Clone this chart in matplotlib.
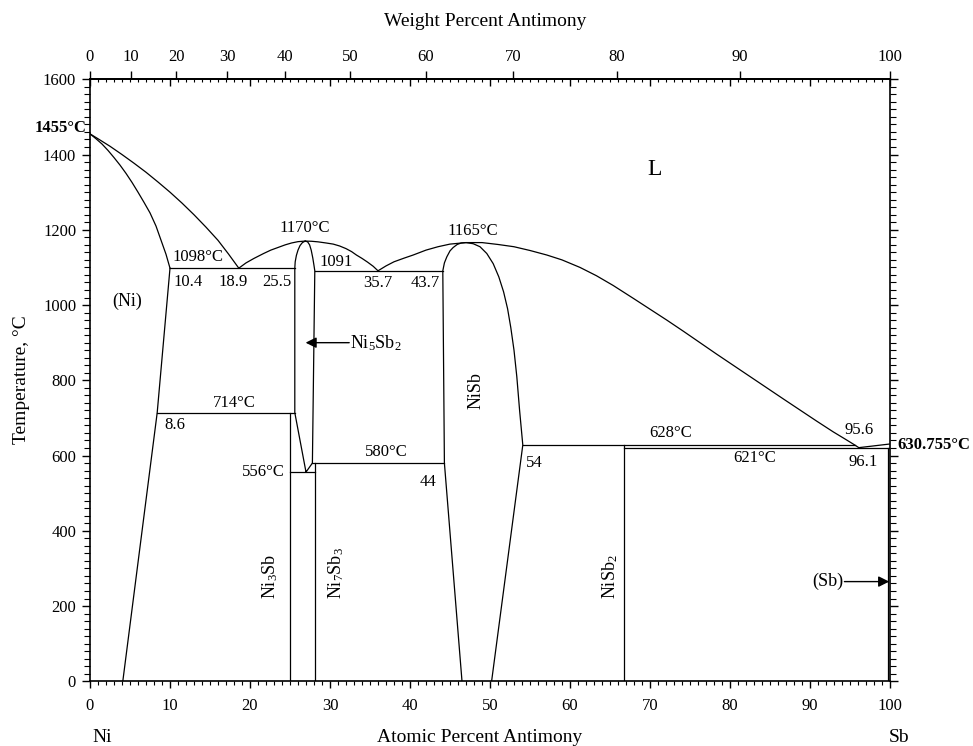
import numpy as np
import matplotlib
matplotlib.use('Agg')
import matplotlib.pyplot as plt
from matplotlib.ticker import MultipleLocator, FixedLocator, NullFormatter

plt.rcParams['font.family'] = ['Liberation Serif', 'DejaVu Serif']
plt.rcParams['mathtext.fontset'] = 'custom'
plt.rcParams['mathtext.rm'] = 'Liberation Serif'
plt.rcParams['mathtext.it'] = 'Liberation Serif:italic'
plt.rcParams['mathtext.bf'] = 'Liberation Serif:bold'

# ---------------- data (atomic % Sb, temperature degC) ----------------
MW_NI, MW_SB = 58.693, 121.76

liq_ni_x = [0, 1, 2.5, 4, 5.5, 7, 8.5, 10, 11.5, 13, 14.5, 16, 17.3, 18.6]
liq_ni_t = [1455, 1442, 1422, 1400, 1377, 1353, 1327, 1300, 1271, 1240, 1207, 1172, 1136, 1098]

sol_ni_x = [0, 0.75, 1.5, 2.25, 3, 3.75, 4.5, 5.25, 6, 6.75, 7.5, 8.25, 9, 9.5, 10.0]
sol_ni_t = [1455, 1442, 1428, 1411, 1392, 1372, 1350, 1326, 1300, 1273, 1245, 1210, 1165, 1135, 1098]

solvus_ni_x = [10.0, 8.4, 4.1]
solvus_ni_t = [1098, 714, 0]

liq_a_x = [18.6, 19.5, 20.5, 21.7, 22.6, 23.5, 24.4, 25.2, 26.0, 26.9]
liq_a_t = [1098, 1112, 1124, 1137, 1146, 1153, 1160, 1165, 1168.5, 1170]
liq_b_x = [26.9, 27.7, 28.5, 29.5, 30.4, 31.2, 32.0, 32.7, 33.3, 34.0, 34.7, 35.4, 36.0]
liq_b_t = [1170, 1169.5, 1168, 1165, 1162, 1157, 1150, 1142, 1133, 1124, 1114, 1103, 1091]

ni5sb2_x = [27.0, 25.6, 25.6, 25.65, 25.8, 26.0, 26.25, 26.55, 26.9, 27.2, 27.45,
            27.65, 27.85, 28.0, 28.1, 27.8, 27.0]
ni5sb2_t = [556, 714, 1098, 1115, 1132, 1146, 1158, 1166, 1170, 1168, 1160,
            1146, 1125, 1105, 1091, 580, 556]

liq_c_x = [36.0, 37, 38, 39.3, 40.4, 42, 43.5, 45, 47, 49, 51, 53, 55, 57.1, 59, 61.25,
           63.3, 65.4, 67.9, 70, 72.1, 74.2, 76.25, 78.3, 80.4, 82.5, 84.6, 86.7, 88.75,
           90.8, 92.9, 94.3, 95.6, 96.1]
liq_c_t = [1091, 1104, 1115, 1125, 1133, 1146, 1155, 1162, 1166, 1166, 1161, 1155, 1145,
           1133, 1120, 1100, 1078, 1052, 1018, 989, 960, 930, 900, 870, 840, 810, 780,
           750, 721, 692, 663, 645, 628, 621]

nisb_x = [46.5, 44.3, 44.1, 44.3, 44.6, 45.0, 45.4, 45.9, 46.4, 47.0, 47.9, 48.75,
          49.6, 50.4, 51.1, 51.7, 52.2, 52.6, 53.0, 53.35, 53.7, 54.1, 50.2]
nisb_t = [0, 580, 1091, 1112, 1128, 1144, 1153, 1161, 1165, 1166, 1163, 1155,
          1137, 1110, 1075, 1035, 990, 940, 880, 810, 720, 628, 0]

liq_sb_x = [96.1, 100]
liq_sb_t = [621, 630.755]

# invariant lines: (x_start, x_end, T)
horiz_x0 = [10.0, 8.4, 25.0, 27.8, 28.1, 54.1, 66.7]
horiz_x1 = [25.6, 25.6, 28.1, 44.3, 44.1, 95.6, 100]
horiz_t = [1098, 714, 556, 580, 1091, 628, 621]

# line compounds: (x, T_top, T_bottom)
vert_x = [25.0, 28.1, 66.7, 99.8]
vert_top = [714, 580, 628, 621]
vert_bot = [0, 0, 0, 0]

top_ticks_wt = [0, 10, 20, 30, 40, 50, 60, 70, 80, 90, 100]


def at2wt(x):
    x = np.asarray(x, dtype=float)
    return 100 * x * MW_SB / (x * MW_SB + (100 - x) * MW_NI)


def wt2at(w):
    w = np.asarray(w, dtype=float)
    a = w / MW_SB
    b = (100 - w) / MW_NI
    return 100 * a / (a + b)


fig = plt.figure(figsize=(9.73, 7.46), dpi=100)
ax = fig.add_axes([90 / 973, 1 - 681.3 / 746, 800 / 973, 602 / 746])
ax.set_xlim(0, 100)
ax.set_ylim(0, 1600)

lw = 0.9
kw = dict(color='black', lw=lw, solid_joinstyle='round')
ax.plot(liq_ni_x, liq_ni_t, **kw)
ax.plot(sol_ni_x, sol_ni_t, **kw)
ax.plot(solvus_ni_x, solvus_ni_t, **kw)
ax.plot(liq_a_x, liq_a_t, **kw)
ax.plot(liq_b_x, liq_b_t, **kw)
ax.plot(ni5sb2_x, ni5sb2_t, **kw)
ax.plot(liq_c_x, liq_c_t, **kw)
ax.plot(nisb_x, nisb_t, **kw)
ax.plot(liq_sb_x, liq_sb_t, **kw)
for x0, x1, t in zip(horiz_x0, horiz_x1, horiz_t):
    ax.plot([x0, x1], [t, t], **kw)
for x, t0, t1 in zip(vert_x, vert_top, vert_bot):
    ax.plot([x, x], [t0, t1], **kw)

# ---------------- axes / ticks ----------------
for s in ax.spines.values():
    s.set_linewidth(1.2)

ax.xaxis.set_major_locator(MultipleLocator(10))
ax.xaxis.set_minor_locator(MultipleLocator(1))
ax.yaxis.set_major_locator(MultipleLocator(200))
ax.yaxis.set_minor_locator(MultipleLocator(20))
ax.tick_params(axis='x', which='major', direction='out', length=5, width=1,
               labelsize=12, pad=7, top=False)
ax.tick_params(axis='x', which='minor', direction='out', length=3, width=0.8, top=False)
ax.tick_params(axis='y', which='major', direction='out', length=6, width=1,
               labelsize=12, pad=4, right=True)
ax.tick_params(axis='y', which='minor', direction='out', length=4, width=0.8, right=True)

# top at% ticks pointing inward
topa = ax.secondary_xaxis('top')
topa.xaxis.set_major_locator(MultipleLocator(10))
topa.xaxis.set_minor_locator(MultipleLocator(1))
topa.xaxis.set_major_formatter(NullFormatter())
topa.tick_params(which='major', direction='in', length=5, width=1)
topa.tick_params(which='minor', direction='in', length=2.5, width=0.8)
topa.spines['top'].set_linewidth(1.2)

# top weight-percent axis
topw = ax.secondary_xaxis('top', functions=(at2wt, wt2at))
topw.xaxis.set_major_locator(FixedLocator(top_ticks_wt))
topw.xaxis.set_minor_locator(FixedLocator([]))
topw.tick_params(which='major', direction='out', length=6, width=1, labelsize=12, pad=4)
topw.spines['top'].set_linewidth(1.2)

# ---------------- labels ----------------
fs = 12
T = dict(fontsize=fs, color='black')
ax.text(-0.4, 1470, '1455°C', ha='right', va='center', fontweight='bold', **T)
ax.text(100.9, 628, '630.755°C', ha='left', va='center', fontweight='bold', **T)
ax.text(70.6, 1359, 'L', ha='center', va='center', fontsize=17)
ax.text(26.9, 1205, '1170°C', ha='center', va='center', **T)
ax.text(13.5, 1128, '1098°C', ha='center', va='center', **T)
ax.text(12.3, 1062, '10.4', ha='center', va='center', **T)
ax.text(17.9, 1062, '18.9', ha='center', va='center', **T)
ax.text(23.3, 1062, '25.5', ha='center', va='center', **T)
ax.text(30.75, 1115, '1091', ha='center', va='center', **T)
ax.text(36.0, 1058, '35.7', ha='center', va='center', **T)
ax.text(41.9, 1058, '43.7', ha='center', va='center', **T)
ax.text(4.6, 1011, '(Ni)', ha='center', va='center', fontsize=13)
ax.text(47.9, 1197, '1165°C', ha='center', va='center', **T)
ax.text(48.3, 774, 'NiSb', ha='center', va='center', rotation=90, fontsize=13)
ax.text(18.0, 740, '714°C', ha='center', va='center', **T)
ax.text(10.6, 681, '8.6', ha='center', va='center', **T)
ax.text(37.1, 610, '580°C', ha='center', va='center', **T)
ax.text(24.4, 556, '556°C', ha='right', va='center', **T)
ax.text(42.2, 530, '44', ha='center', va='center', **T)
ax.text(55.6, 579, '54', ha='center', va='center', **T)
ax.text(72.6, 661, '628°C', ha='center', va='center', **T)
ax.text(83.1, 593, '621°C', ha='center', va='center', **T)
ax.text(96.2, 668, '95.6', ha='center', va='center', **T)
ax.text(96.6, 584, '96.1', ha='center', va='center', **T)
ax.text(22.5, 278, r'Ni$_\mathrm{3}$Sb', ha='center', va='center', rotation=90, fontsize=13)
ax.text(30.8, 287, r'Ni$_\mathrm{7}$Sb$_\mathrm{3}$', ha='center', va='center', rotation=90, fontsize=13)
ax.text(65.0, 278, r'NiSb$_\mathrm{2}$', ha='center', va='center', rotation=90, fontsize=13)

ax.text(32.5, 900, r'Ni$_\mathrm{5}$Sb$_\mathrm{2}$', ha='left', va='center', fontsize=13)
ax.annotate('', xy=(26.95, 900), xytext=(32.4, 900),
            arrowprops=dict(arrowstyle='-|>', color='black', lw=1, mutation_scale=16,
                            shrinkA=0, shrinkB=0))
ax.text(94.2, 265, '(Sb)', ha='right', va='center', fontsize=13)
ax.annotate('', xy=(99.9, 265), xytext=(94.3, 265),
            arrowprops=dict(arrowstyle='-|>', color='black', lw=1, mutation_scale=16,
                            shrinkA=0, shrinkB=0))

fig.text(485 / 973, 1 - 22 / 746, 'Weight Percent Antimony', ha='center', va='center', fontsize=14)
fig.text(480 / 973, 1 - 737 / 746, 'Atomic Percent Antimony', ha='center', va='center', fontsize=14)
fig.text(22 / 973, 1 - 380 / 746, 'Temperature, °C', ha='center', va='center',
         rotation=90, fontsize=14)
fig.text(102 / 973, 1 - 737 / 746, 'Ni', ha='center', va='center', fontsize=14)
fig.text(899 / 973, 1 - 737 / 746, 'Sb', ha='center', va='center', fontsize=14)

fig.savefig('out.png', dpi=100)
